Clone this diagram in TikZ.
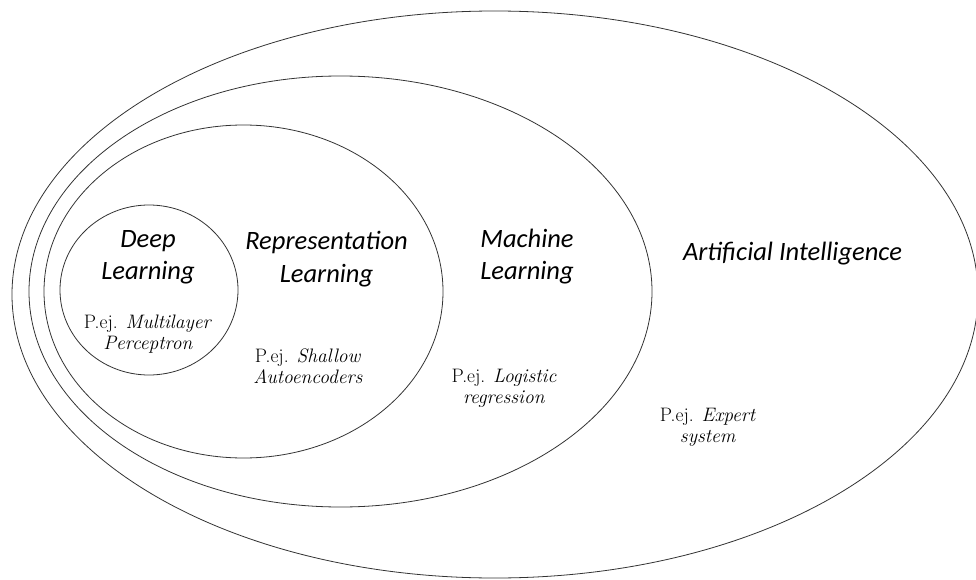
\documentclass[tikz,border=0pt]{standalone}
\usepackage{fontspec}
\newfontfamily\titlefont{Carlito}
\usetikzlibrary{shapes.geometric}

\tikzset{
  set/.style={ellipse, draw=black!80, line width=0.8pt, inner sep=0pt},
  settitle/.style={align=center, inner sep=0pt,
    font=\titlefont\itshape\fontsize{26.5}{32.5}\selectfont},
  example/.style={align=center, inner sep=0pt,
    font=\fontsize{19.5}{21}\selectfont},
}

\begin{document}
\begin{tikzpicture}[x=1pt, y=-1pt]
  \useasboundingbox (0,0) rectangle (976,580);

  % nested sets
  \node[set, minimum width=966pt, minimum height=567pt] (ai) at (495,294.5) {};
  \node[set, minimum width=623pt, minimum height=431pt] (ml) at (340.5,291.5) {};
  \node[set, minimum width=399pt, minimum height=333pt] (rl) at (243.5,291.5) {};
  \node[set, minimum width=178pt, minimum height=170pt] (dl) at (149,290) {};

  % set names
  \node[settitle] (dlname) at (148,257.4) {Deep\\Learning};
  \node[settitle] (rlname) at (326.5,259.2) {Representation\\Learning};
  \node[settitle] (mlname) at (527,256.4) {Machine\\Learning};
  \node[settitle, anchor=base] (ainame) at (792.5,260) {Artificial Intelligence};

  % examples
  \node[example] (dlex) at (148,334.5) {P.ej. \textit{Multilayer}\\\textit{Perceptron}};
  \node[example] (rlex) at (308,366) {P.ej. \textit{Shallow}\\\textit{Autoencoders}};
  \node[example] (mlex) at (504,388) {P.ej. \textit{Logistic}\\\textit{regression}};
  \node[example] (aiex) at (708,427) {P.ej. \textit{Expert}\\\textit{system}};
\end{tikzpicture}
\end{document}
